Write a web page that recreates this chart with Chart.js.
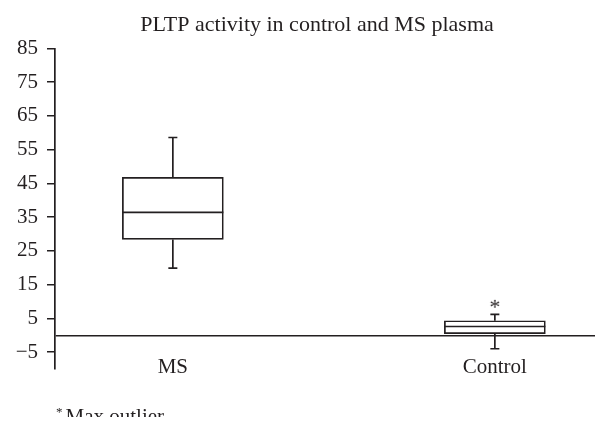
<!DOCTYPE html>
<html>
<head>
<meta charset="utf-8">
<script src="https://cdn.jsdelivr.net/npm/chart.js@4.4.1/dist/chart.umd.min.js"></script>
<style>
  body { margin: 0; background: #fff; }
  #wrap { position: relative; width: 610px; height: 432px; }
  #note { position: absolute; left: 56px; top: 399px; height: 18px; overflow: hidden;
          font-family: "Liberation Serif", serif; font-size: 21px; line-height: 26px; color: #231f20; }
  #note sup { font-size: 13px; vertical-align: 7px; margin-right: 3px; }
</style>
</head>
<body>
<div id="wrap">
  <canvas id="boxChart" width="610" height="432"></canvas>
  <div id="note"><sup>*</sup>Max outlier</div>
</div>
<script>
// groups and box statistics
var groups = ["MS", "Control"];
var mins = [19.9, -4.0];
var q1s = [28.4, 0.5];
var medians = [36.4, 2.6];
var q3s = [46.8, 4.3];
var maxs = [58.6, 6.2];
var outliers = [null, 9.3];
var yTicks = [-5, 5, 15, 25, 35, 45, 55, 65, 75, 85];

var ink = "#231f20";
var serif = "'Liberation Serif', 'DejaVu Serif', serif";

var boxData = [], whiskerData = [], medianData = [], capData = [], outlierData = [];
for (var i = 0; i < groups.length; i++) {
  boxData.push({x: i, y: [q1s[i], q3s[i]]});
  whiskerData.push({x: i, y: q3s[i]}, {x: i, y: maxs[i]}, {x: i, y: null});
  whiskerData.push({x: i, y: q1s[i]}, {x: i, y: mins[i]}, {x: i, y: null});
  medianData.push({x: i, y: medians[i]});
  capData.push({x: i, y: maxs[i]}, {x: i, y: mins[i]});
  if (outliers[i] != null) outlierData.push({x: i, y: outliers[i]});
}

// asterisk marker for the outlier
var star = document.createElement("canvas");
star.width = 16; star.height = 16;
var sctx = star.getContext("2d");
sctx.fillStyle = ink;
sctx.font = "22px " + serif;
sctx.textAlign = "center";
sctx.textBaseline = "middle";
sctx.fillText("*", 8, 12);

function minus(v) { return v < 0 ? "\u2212" + Math.abs(v) : String(v); }

var chart = new Chart(document.getElementById("boxChart"), {
  type: "bar",
  data: {
    datasets: [
      {
        type: "line", data: whiskerData, order: 3,
        borderColor: ink, borderWidth: 1.7, pointRadius: 0, spanGaps: false
      },
      {
        type: "bar", data: boxData, order: 2,
        backgroundColor: "#fff", borderColor: ink, borderWidth: 1.7,
        borderSkipped: false, barThickness: 101
      },
      {
        type: "line", data: medianData, order: 1, showLine: false,
        pointStyle: "line", pointRadius: 50.5, pointBorderWidth: 1.7,
        pointBorderColor: ink
      },
      {
        type: "line", data: capData, order: 1, showLine: false,
        pointStyle: "line", pointRadius: 4.5, pointBorderWidth: 1.7,
        pointBorderColor: ink
      },
      {
        type: "line", data: outlierData, order: 1, showLine: false,
        pointStyle: star, pointRadius: 8
      }
    ]
  },
  options: {
    responsive: false,
    animation: false,
    events: [],
    layout: { autoPadding: false, padding: { left: 12, right: -12, top: 0, bottom: 63 } },
    plugins: {
      legend: { display: false },
      tooltip: { enabled: false },
      title: {
        display: true,
        text: "PLTP activity in control and MS plasma",
        color: ink,
        font: { family: serif, size: 22, weight: "normal" },
        padding: { top: 12, bottom: 10 }
      }
    },
    scales: {
      x: {
        type: "linear",
        min: -0.366,
        max: 1.311,
        offset: false,
        afterBuildTicks: function (s) { s.ticks = groups.map(function (g, i) { return {value: i}; }); },
        afterFit: function (s) { s.height = 0; s.paddingLeft = 0; s.paddingRight = 0; },
        grid: { display: false, drawTicks: false, tickLength: 0 },
        border: { display: false },
        ticks: {
          color: ink,
          mirror: true,
          padding: -11,
          autoSkip: false,
          maxRotation: 0,
          font: { family: serif, size: 21 },
          callback: function (v) { return groups[v]; }
        }
      },
      y: {
        min: -10,
        max: 85,
        afterBuildTicks: function (s) {
          s.ticks = yTicks.concat([0]).map(function (v) { return {value: v}; });
        },
        afterFit: function (s) { s.width = 43; },
        border: { display: true, color: ink, width: 1.7 },
        grid: {
          drawOnChartArea: true,
          tickLength: 8,
          lineWidth: 1.5,
          color: function (c) { return c.tick && c.tick.value === 0 ? ink : "rgba(0,0,0,0)"; },
          tickColor: function (c) { return c.tick && c.tick.value === 0 ? "rgba(0,0,0,0)" : ink; }
        },
        ticks: {
          color: ink,
          padding: 9,
          font: { family: serif, size: 21 },
          callback: function (v) { return v === 0 ? "" : minus(v); }
        }
      },
      // empty spacer on the right so the title centres like the original
      spacer: {
        type: "linear",
        position: "right",
        afterFit: function (s) { s.width = 27; },
        grid: { display: false, drawTicks: false },
        border: { display: false },
        ticks: { display: false }
      }
    }
  }
});
</script>
</body>
</html>
